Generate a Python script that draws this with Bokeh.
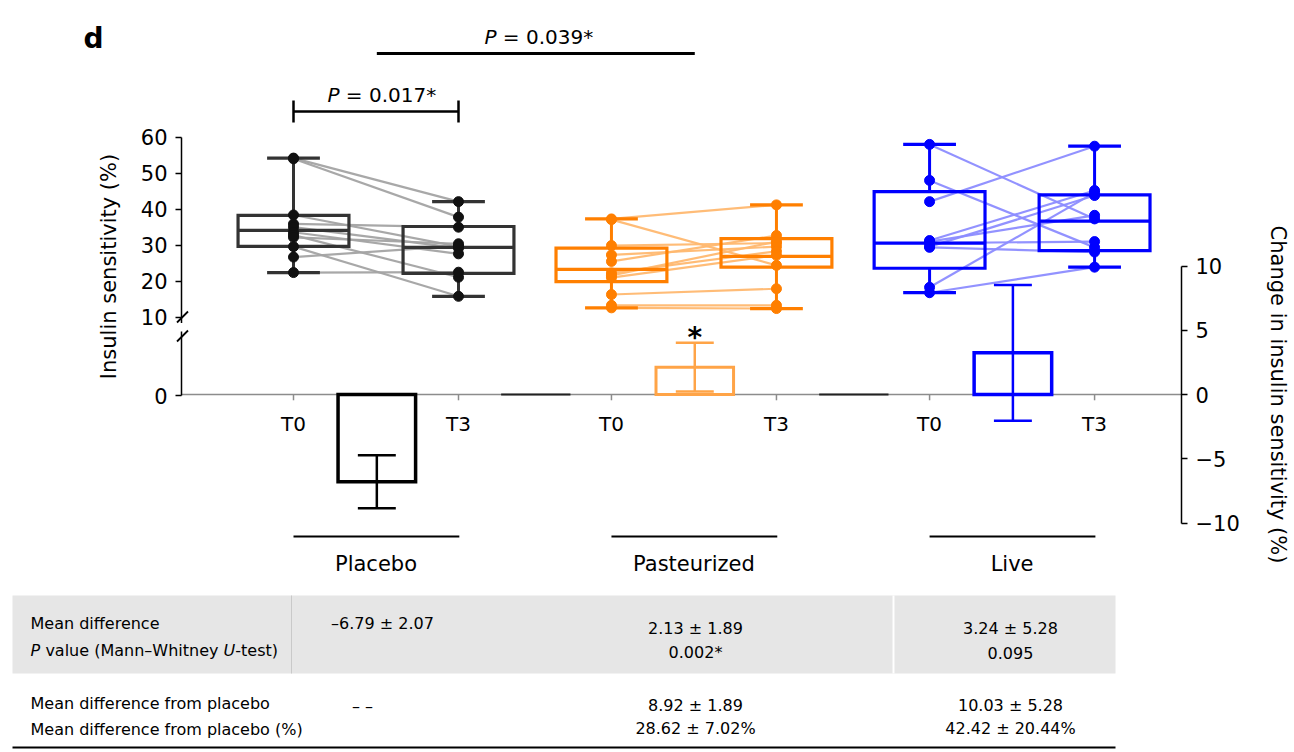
import numpy as np
from bokeh.plotting import figure
from bokeh.models import Range1d, LinearAxis, FixedTicker, CustomJSTickFormatter
from bokeh.embed import file_html
from bokeh.resources import INLINE
from bokeh.core.properties import value

# ---------------- data ----------------
groups = ["Placebo", "Pasteurized", "Live"]
timepoints = ["T0", "T3"]

placebo_t0 = [54.2, 54.0, 38.4, 35.9, 35.0, 33.6, 32.8, 32.2, 29.6, 26.7, 22.4]
placebo_t3 = [42.1, 37.8, 29.6, 35.0, 29.2, 27.6, 21.1, 30.4, 15.8, 29.8, 22.5]
past_t0 = [37.3, 37.1, 29.9, 27.3, 25.5, 22.3, 21.6, 21.0, 16.3, 13.3, 12.6]
past_t3 = [41.2, 24.4, 30.6, 29.6, 32.7, 28.3, 31.0, 27.2, 17.9, 13.3, 12.4]
live_t0 = [58.0, 48.0, 42.1, 31.3, 31.0, 30.6, 29.6, 29.4, 18.3, 16.8]
live_t3 = [37.3, 29.4, 57.5, 45.2, 38.3, 31.0, 43.8, 28.1, 44.6, 23.9]

# box statistics: [low whisker, Q1, median, Q3, high whisker]
placebo_box_t0 = [22.4, 29.7, 34.1, 38.3, 54.2]
placebo_box_t3 = [15.8, 22.2, 29.4, 35.2, 42.1]
past_box_t0 = [12.6, 19.9, 23.3, 29.2, 37.3]
past_box_t3 = [12.4, 23.9, 26.9, 31.8, 41.2]
live_box_t0 = [16.8, 23.6, 30.6, 44.9, 58.0]
live_box_t3 = [23.9, 28.5, 36.7, 44.0, 57.5]

mean_change = [-6.79, 2.13, 3.24]
sem_change = [2.07, 1.89, 5.28]

left_ticks = [10, 20, 30, 40, 50, 60]
right_ticks = [-10, -5, 0, 5, 10]

left_label = "Insulin sensitivity (%)"
right_label = "Change in insulin sensitivity (%)"
panel_letter = "d"
p_between = "0.039*"
p_placebo = "0.017*"

table_row1_labels = ["Mean difference", "P value (Mann\u2013Whitney U-test)"]
table_row2_labels = ["Mean difference from placebo", "Mean difference from placebo (%)"]
table_row1_a = ["\u20136.79 \u00b1 2.07", "2.13 \u00b1 1.89", "3.24 \u00b1 5.28"]
table_row1_b = ["", "0.002*", "0.095"]
table_row2_a = ["\u2013 \u2013", "8.92 \u00b1 1.89", "10.03 \u00b1 5.28"]
table_row2_b = ["", "28.62 \u00b1 7.02%", "42.42 \u00b1 20.44%"]

# ---------------- styles ----------------
box_colors = ["#333333", "#FF7F00", "#0000FF"]
point_colors = ["#111111", "#FF7F00", "#0000FF"]
pair_colors = ["#A3A3A3", "#FFB870", "#8C8CFF"]
bar_colors = ["#000000", "#FFA447", "#0000FF"]
bar_widths = [3.5, 3, 3.5]
FONT = value("DejaVu Sans")
NB = "\u00a0"

# ---------------- geometry (screen layout of reference) ----------------
W = 1290
H = 750
AXIS_L_PX, AXIS_R_PX = 181.0, 1181.0

PX_X0, PX_PER_X = 293.0, 165.0        # x data units
PX_C0, PX_PER_C = 394.0, 12.85        # change (%) units
PX_I10, PX_PER_I = 316.7, 3.6         # insulin sensitivity units


def xd(px):
    return (px - PX_X0) / PX_PER_X


def cd(py):
    return (PX_C0 - py) / PX_PER_C


def idat(py):
    return 10 + (PX_I10 - py) / PX_PER_I


group_x = [0.0, 1.927, 3.855]
BOX_HW = 0.336
CAP_HW = 0.16
BAR_L, BAR_R = 0.27, 0.74
BAR_C = 0.505
ERR_HW = 0.115

p = figure(width=W, height=H, output_backend="svg", toolbar_location=None,
           title=None, x_axis_location=None, y_axis_location=None,
           x_range=Range1d(xd(0), xd(W)), y_range=Range1d(cd(H), cd(0)),
           min_border_left=0, min_border_right=0, min_border_top=0, min_border_bottom=0)
p.outline_line_color = None
p.grid.visible = False
p.background_fill_color = "white"
p.border_fill_color = "white"
p.extra_y_ranges = {"ins": Range1d(idat(H), idat(0))}

zero_ins = idat(395.0)

# left axis (broken) and right axis, fixed at their positions in the frame
lax = LinearAxis(y_range_name="ins", fixed_location=xd(AXIS_L_PX),
                 ticker=FixedTicker(ticks=[zero_ins] + left_ticks),
                 formatter=CustomJSTickFormatter(code="return tick < 0 ? '0' : tick.toFixed(0);"),
                 bounds=(zero_ins, 60))
rax = LinearAxis(fixed_location=xd(AXIS_R_PX), ticker=FixedTicker(ticks=right_ticks),
                 formatter=CustomJSTickFormatter(code="return tick < 0 ? '\u2212' + Math.abs(tick) : tick.toString();"),
                 bounds=(-10, 10))
for ax in (lax, rax):
    ax.axis_line_color = "black"
    ax.axis_line_width = 1.5
    ax.major_tick_line_color = "black"
    ax.major_tick_line_width = 1.5
    ax.major_tick_out = 6
    ax.major_tick_in = 0
    ax.minor_tick_line_color = None
    ax.major_label_text_font = "DejaVu Sans"
    ax.major_label_text_font_size = "21px"
    ax.major_label_text_color = "black"
    ax.major_label_standoff = 8
p.add_layout(lax, "left")
p.add_layout(rax, "right")

# axis titles
p.text(x=[xd(108)], y=[cd(266)], text=[left_label], angle=np.pi / 2, text_font=FONT,
       text_font_size="21px", text_align="center", text_baseline="middle", text_color="black")
p.text(x=[xd(1277)], y=[cd(394)], text=[right_label], angle=-np.pi / 2, text_font=FONT,
       text_font_size="21px", text_align="center", text_baseline="middle", text_color="black")

# axis break marks (drawn over the axis line)
p.segment(x0=[xd(AXIS_L_PX)], y0=[cd(322.5)], x1=[xd(AXIS_L_PX)], y1=[cd(331)],
          line_color="white", line_width=4, level="overlay")
p.segment(x0=[xd(176.5)] * 2, y0=[cd(322), cd(341)], x1=[xd(187.5)] * 2, y1=[cd(311), cd(330)],
          line_color="black", line_width=1.8, level="overlay")

# baseline at zero change
p.segment(x0=[xd(AXIS_L_PX)], y0=[0], x1=[xd(AXIS_R_PX)], y1=[0], line_color="#8C8C8C", line_width=1.5)
gap_mid = [(group_x[0] + 1 + group_x[1]) / 2, (group_x[1] + 1 + group_x[2]) / 2]
p.segment(x0=[g - 0.205 for g in gap_mid], y0=[0, 0], x1=[g + 0.215 for g in gap_mid], y1=[0, 0],
          line_color="#222222", line_width=2)

tick_x = [g + t for g in group_x for t in (0, 1)]
p.segment(x0=tick_x, y0=[0] * 6, x1=tick_x, y1=[-0.45] * 6, line_color="#8C8C8C", line_width=1.5)
p.text(x=tick_x, y=[cd(423)] * 6, text=timepoints * 3, text_font=FONT, text_font_size="20px",
       text_align="center", text_baseline="middle", text_color="black")

series = [(placebo_t0, placebo_t3), (past_t0, past_t3), (live_t0, live_t3)]
boxes = [(placebo_box_t0, placebo_box_t3), (past_box_t0, past_box_t3), (live_box_t0, live_box_t3)]

for gi, gx in enumerate(group_x):
    t0, t3 = series[gi]
    # paired lines
    p.multi_line(xs=[[gx, gx + 1] for _ in t0], ys=[[a, b] for a, b in zip(t0, t3)],
                 y_range_name="ins", line_color=pair_colors[gi], line_width=2.2, line_alpha=0.95)
    for ti in (0, 1):
        x = gx + ti
        lo, q1, med, q3, hi = boxes[gi][ti]
        col = box_colors[gi]
        p.segment(x0=[x, x], y0=[lo, q3], x1=[x, x], y1=[q1, hi], y_range_name="ins",
                  line_color=col, line_width=3)
        p.segment(x0=[x - CAP_HW, x - CAP_HW], y0=[lo, hi], x1=[x + CAP_HW, x + CAP_HW], y1=[lo, hi],
                  y_range_name="ins", line_color=col, line_width=3.2)
        p.quad(left=[x - BOX_HW], right=[x + BOX_HW], bottom=[q1], top=[q3], y_range_name="ins",
               fill_color=None, line_color=col, line_width=3.2, line_join="miter")
        p.segment(x0=[x - BOX_HW], y0=[med], x1=[x + BOX_HW], y1=[med], y_range_name="ins",
                  line_color=col, line_width=3.2)
        vals = series[gi][ti]
        p.scatter(x=[x] * len(vals), y=vals, y_range_name="ins", size=10,
                  fill_color=point_colors[gi], line_color=point_colors[gi])

    # change bar + error bar
    m, s = mean_change[gi], sem_change[gi]
    p.quad(left=[gx + BAR_L], right=[gx + BAR_R], bottom=[0], top=[m], fill_color=None,
           line_color=bar_colors[gi], line_width=bar_widths[gi], line_join="miter")
    bc = gx + BAR_C
    p.segment(x0=[bc], y0=[m - s], x1=[bc], y1=[m + s], line_color=bar_colors[gi], line_width=2.5)
    p.segment(x0=[bc - ERR_HW] * 2, y0=[m - s, m + s], x1=[bc + ERR_HW] * 2, y1=[m - s, m + s],
              line_color=bar_colors[gi], line_width=2.5)

# asterisk over pasteurized change bar
p.text(x=[group_x[1] + BAR_C], y=[cd(337)], text=["*"], text_font=FONT, text_font_size="28px",
       text_font_style="bold", text_align="center", text_baseline="alphabetic", text_color="black")

# group labels with underline
p.segment(x0=[g for g in group_x], y0=[cd(536)] * 3, x1=[g + 1.005 for g in group_x], y1=[cd(536)] * 3,
          line_color="black", line_width=2)
p.text(x=[g + 0.5 for g in group_x], y=[cd(563)] * 3, text=groups, text_font=FONT,
       text_font_size="21px", text_align="center", text_baseline="middle", text_color="black")

# significance annotations
p.segment(x0=[group_x[0] + BAR_C], y0=[cd(53)], x1=[group_x[1] + BAR_C], y1=[cd(53)],
          line_color="black", line_width=3)
p.segment(x0=[group_x[0], group_x[0], group_x[0] + 1], y0=[cd(111), cd(100), cd(100)],
          x1=[group_x[0] + 1, group_x[0], group_x[0] + 1], y1=[cd(111), cd(122), cd(122)],
          line_color="black", line_width=2.5)
split1 = xd(496)
split2 = xd(339)
p.text(x=[split1, split2], y=[cd(36), cd(94)], text=["P", "P"], text_font=FONT, text_font_size="20px",
       text_font_style="italic", text_align="right", text_baseline="middle", text_color="black")
p.text(x=[split1, split2], y=[cd(36), cd(94)], text=[NB + "= " + p_between, NB + "= " + p_placebo],
       text_font=FONT, text_font_size="20px", text_align="left", text_baseline="middle", text_color="black")

# panel letter
p.text(x=[xd(83)], y=[cd(38)], text=[panel_letter], text_font=FONT, text_font_size="28px",
       text_font_style="bold", text_align="left", text_baseline="alphabetic", text_color="black")

# ---------------- table (below the chart) ----------------
p.quad(left=[xd(12)], right=[xd(1115)], top=[cd(595)], bottom=[cd(673)], fill_color="#E6E6E6",
       line_color=None, level="underlay")
p.segment(x0=[xd(291)], y0=[cd(595)], x1=[xd(291)], y1=[cd(673)], line_color="#C9C9C9", line_width=1)
p.segment(x0=[xd(893)], y0=[cd(595)], x1=[xd(893)], y1=[cd(673)], line_color="white", line_width=2)
p.segment(x0=[xd(12)], y0=[cd(747)], x1=[xd(1115)], y1=[cd(747)], line_color="black", line_width=2)

TF = "16px"
p.text(x=[xd(30)], y=[cd(623)], text=[table_row1_labels[0]], text_font=FONT, text_font_size=TF,
       text_baseline="middle", text_color="black")
pv = table_row1_labels[1]
ui = pv.index("U")
pieces = [pv[0], pv[1:ui].replace(" ", NB), "U", pv[ui + 1:]]
piece_x = [30, 39.8, 223.0, 234.8]
piece_style = ["italic", "normal", "italic", "normal"]
for txt, px_, st in zip(pieces, piece_x, piece_style):
    p.text(x=[xd(px_)], y=[cd(650)], text=[txt], text_font=FONT, text_font_size=TF, text_font_style=st,
           text_baseline="middle", text_color="black")
p.text(x=[xd(30)] * 2, y=[cd(703), cd(729)], text=table_row2_labels, text_font=FONT, text_font_size=TF,
       text_baseline="middle", text_color="black")

col_cx = [xd(382), xd(695), xd(1010)]
p.text(x=col_cx, y=[cd(623), cd(628), cd(628)], text=table_row1_a, text_font=FONT, text_font_size=TF,
       text_align="center", text_baseline="middle", text_color="black")
p.text(x=col_cx, y=[cd(652)] * 3, text=table_row1_b, text_font=FONT, text_font_size=TF,
       text_align="center", text_baseline="middle", text_color="black")
p.text(x=[xd(362), xd(695), xd(1010)], y=[cd(706), cd(705), cd(705)], text=table_row2_a, text_font=FONT,
       text_font_size=TF, text_align="center", text_baseline="middle", text_color="black")
p.text(x=col_cx, y=[cd(728)] * 3, text=table_row2_b, text_font=FONT, text_font_size=TF,
       text_align="center", text_baseline="middle", text_color="black")

open("out.html", "w").write(file_html(p, INLINE))
